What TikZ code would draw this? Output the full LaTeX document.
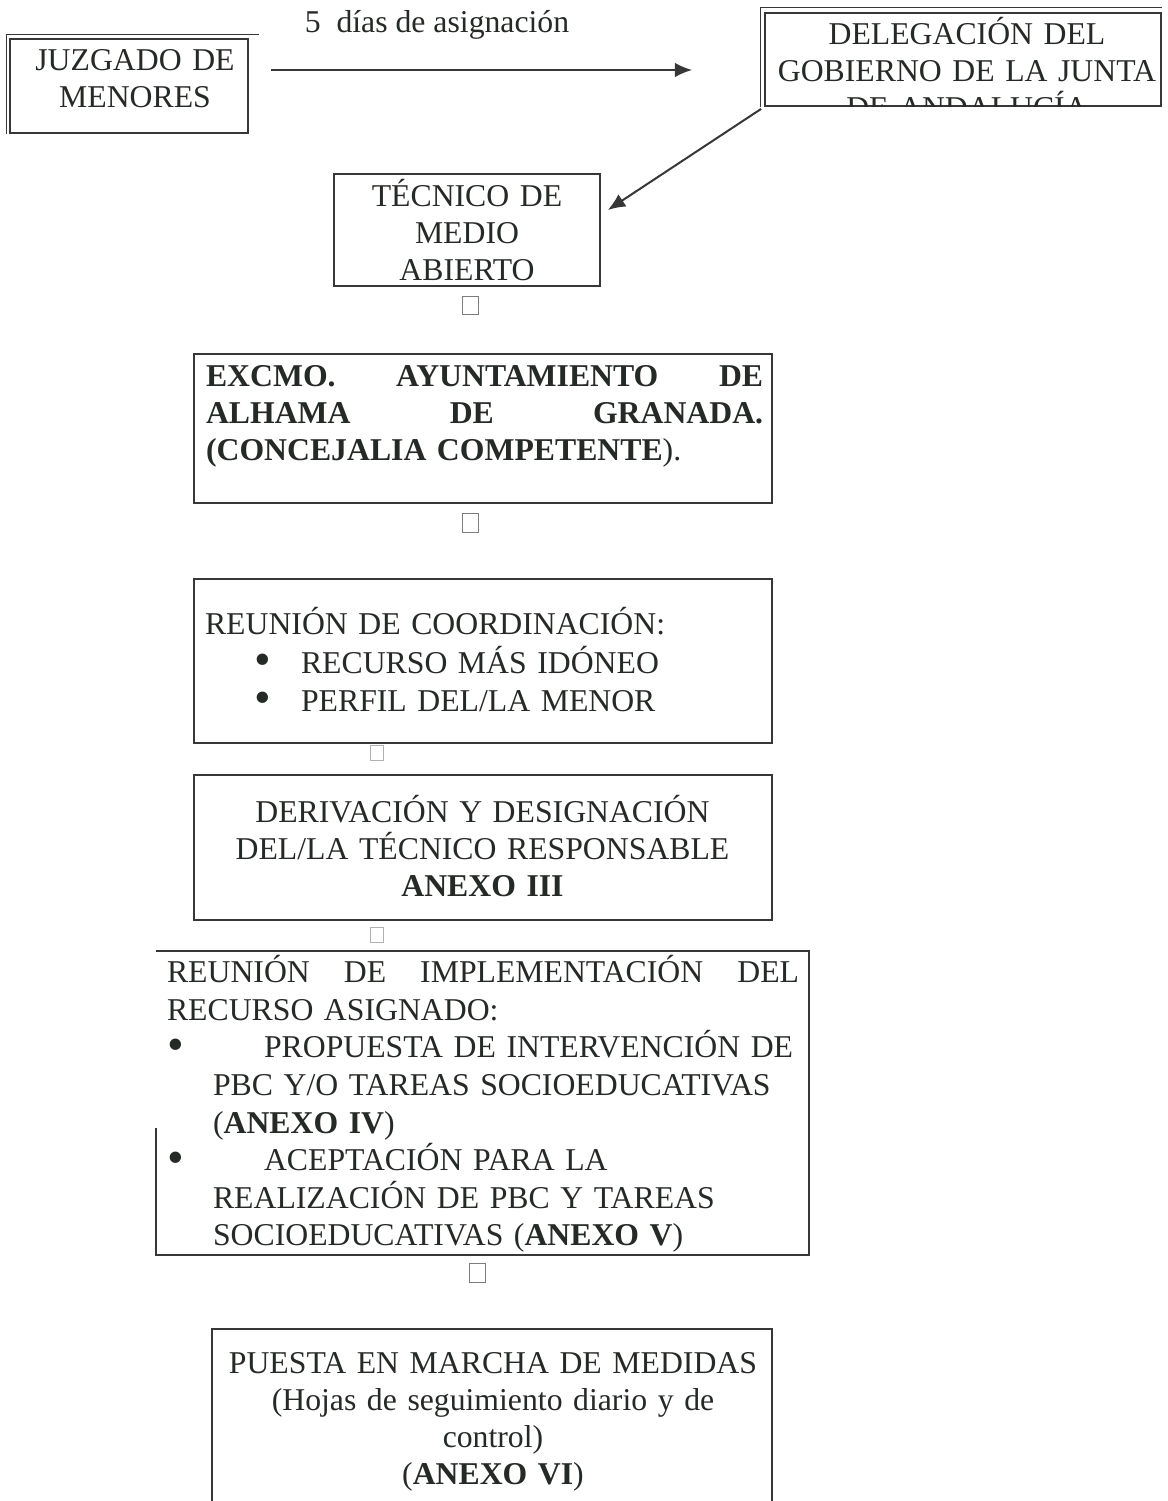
\documentclass[tikz,border=0pt]{standalone}
\usepackage{fontspec}
\setmainfont{Liberation Serif}
\usepackage{tikz}
\usetikzlibrary{positioning}
\usetikzlibrary{arrows.meta}
\usepackage{xcolor}
\definecolor{tinta}{RGB}{38,42,38}
\definecolor{borde}{RGB}{55,55,55}
\definecolor{gris}{RGB}{125,125,125}
\newcommand{\arranque}{\rule{0pt}{12pt}}
\newcommand{\vineta}[2]{\hspace*{#1}\makebox[#2][l]{\raisebox{-0.9pt}{\scalebox{1.5}{\textbullet}}}}
\newdimen\pxu \pxu=0.375pt

\begin{document}
\begin{tikzpicture}[x=0.375pt,y=-0.375pt,thick]
    % estilos de las cajas y los textos
    \tikzstyle{caja}=[draw=borde,line width=0.65pt,inner sep=0pt]
    \tikzstyle{texto}=[inner sep=0pt,text=tinta,font=\fontsize{11.9}{13.9}\selectfont,execute at begin node=\arranque]
    \tikzstyle{hueco}=[draw=gris,line width=0.35pt,inner sep=0pt,minimum width=6pt,minimum height=7.1pt]
    \tikzstyle{flecha}=[draw=borde,line width=0.75pt,-{Latex[length=6.5pt,width=5.5pt]}]

    \useasboundingbox[fill=white] (0,0) rectangle (1167,1501);

    % cajas
    \node[caja,minimum width=89.25pt,minimum height=35.25pt] (juz) at (129,86) {};
    \node[caja,minimum width=148.5pt,minimum height=34.9pt] (del) at (963,59.5) {};
    \node[caja,minimum width=99.75pt,minimum height=42pt] (tec) at (467,230) {};
    \node[caja,minimum width=216.75pt,minimum height=55.9pt] (exc) at (483,428.5) {};
    \node[caja,minimum width=216.75pt,minimum height=61.5pt] (coo) at (483,661) {};
    \node[caja,minimum width=216.75pt,minimum height=54.4pt] (der) at (483,847.5) {};
    \node[inner sep=0pt,minimum width=244.1pt,minimum height=113.25pt] (imp) at (482.5,1103) {};
    \node[caja,minimum width=210pt,minimum height=68.25pt] (pue) at (492,1420) {};

    \draw[draw=borde,line width=0.35pt] ([shift={(-3,0)}]juz.south west) -- ([shift={(-3,-4)}]juz.north west) -- ([shift={(10,-4)}]juz.north east);
    \draw[draw=borde,line width=0.35pt] ([shift={(-4,0)}]del.south west) -- ([shift={(-4,-5)}]del.north west) -- ([shift={(0,-5)}]del.north east);
    \draw[draw=borde,line width=0.65pt] ([shift={(0,-127)}]imp.south west) -- (imp.south west) -- (imp.south east) -- (imp.north east) -- (imp.north west);

    % textos
    \node[texto,anchor=north] (dias) at (437,-1) {5~ días de asignación};
    \node[texto,anchor=north,text width=86pt,align=center] (juz-t) at (135,37.6) {JUZGADO DE\\MENORES};
    \begin{scope}
      \clip (del.south west) rectangle (del.north east);
      \node[texto,anchor=north,text width=147pt,align=center] (del-t) at (967,11) {DELEGACIÓN DEL\\GOBIERNO DE LA JUNTA\\DE ANDALUCÍA};
    \end{scope}
    \node[texto,anchor=north,text width=95pt,align=center] (tec-t) at (467,173) {TÉCNICO DE\\MEDIO\\ABIERTO};
    \node[texto,anchor=north west,text width=208.9pt,align=left,font=\fontsize{11.9}{13.9}\selectfont\bfseries] (exc-t) at (205,353.6)
      {EXCMO.\hfill AYUNTAMIENTO\hfill DE\\ALHAMA\hfill DE\hfill GRANADA.\\(CONCEJALIA COMPETENTE\textmd{).}};
    \node[texto,anchor=north west,text width=210pt,align=left,font=\fontsize{11.9}{14.4}\selectfont] (coo-t) at (204,601.6)
      {REUNIÓN DE COORDINACIÓN:\\\vineta{49\pxu}{47\pxu}RECURSO MÁS IDÓNEO\\\vineta{49\pxu}{47\pxu}PERFIL DEL/LA MENOR};
    \node[texto,anchor=north,text width=210pt,align=center] (der-t) at (482.5,789.6)
      {DERIVACIÓN Y DESIGNACIÓN\\DEL/LA TÉCNICO RESPONSABLE\\\textbf{ANEXO III}};
    \node[texto,anchor=north west,text width=237pt,align=left,font=\fontsize{11.9}{14.1}\selectfont] (imp-t) at (166,949.6)
      {REUNIÓN\hfill DE\hfill IMPLEMENTACIÓN\hfill DEL\\RECURSO ASIGNADO:\\
       \mbox{\vineta{0pt}{97\pxu}PROPUESTA DE INTERVENCIÓN DE}\\
       \hspace*{46\pxu}PBC Y/O TAREAS SOCIOEDUCATIVAS\\
       \hspace*{46\pxu}(\textbf{ANEXO IV})\\
       \vineta{0pt}{97\pxu}ACEPTACIÓN PARA LA\\
       \hspace*{46\pxu}REALIZACIÓN DE PBC Y TAREAS\\
       \hspace*{46\pxu}SOCIOEDUCATIVAS (\textbf{ANEXO V})};
    \node[texto,anchor=north,text width=205pt,align=center] (pue-t) at (493,1340.6)
      {PUESTA EN MARCHA DE MEDIDAS\\(Hojas de seguimiento diario y de\\control)\\(\textbf{ANEXO VI})};

    % huecos entre cajas
    \node[hueco] (h1) at (470,305.5) {};
    \node[hueco] (h2) at (470,523) {};
    \node[hueco,draw=gris!60,minimum width=4.9pt,minimum height=5.6pt] (h3) at (377,752.5) {};
    \node[hueco,draw=gris!60,minimum width=4.9pt,minimum height=5.6pt] (h4) at (377,934.5) {};
    \node[hueco] (h5) at (477,1273) {};

    % flechas
    \draw[flecha] ([shift={(22,-16)}]juz.east) -- ([shift={(-72,10.5)}]del.west);
    \draw[flecha] ([shift={(-3,2)}]del.south west) -- ([shift={(7,-20)}]tec.east);

\end{tikzpicture}
\end{document}
